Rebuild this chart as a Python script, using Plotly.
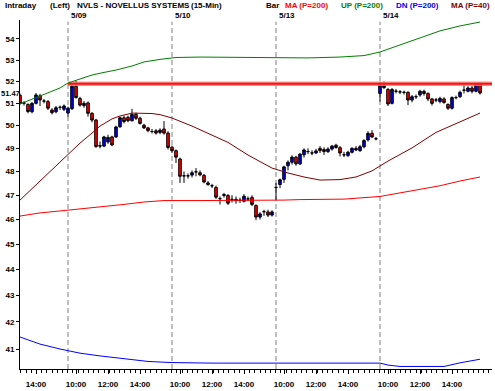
import math
import plotly.graph_objects as go

# ---------------- data ----------------
bar_idx = list(range(116))

opens = [
    51.37, 51.00, 50.95, 50.62, 51.00, 51.34, 51.10, 51.08, 50.70, 50.62, 50.82, 50.73, 50.56,
    50.76, 51.78, 51.22, 50.90, 51.02, 50.55, 50.25, 49.12, 49.10, 49.28, 49.50, 49.50, 49.95, 50.35,
    50.37, 50.22, 50.50, 50.33, 50.02, 49.90, 49.74, 49.77, 49.70, 49.85, 49.67, 49.05,
    48.90, 48.54, 47.82, 47.82, 47.85, 47.99, 47.95, 47.84, 47.52, 47.40, 47.33, 46.86, 46.99,
    46.99, 46.83, 46.83, 46.79, 46.75, 46.85, 46.91, 46.58, 46.10, 46.32, 46.31, 46.18,
    47.33, 47.45, 47.67, 48.25, 48.40, 48.62, 48.33, 48.72, 48.86, 48.80, 48.80, 49.00, 48.95,
    48.86, 48.97, 49.14, 49.03, 48.72, 48.69, 48.83, 49.00, 48.90, 49.07, 49.37, 49.66, 49.42,
    51.45, 51.83, 51.63, 51.00, 51.55, 51.52, 51.50, 51.50, 51.15, 51.30, 51.38, 51.55, 51.45,
    51.20, 51.15, 51.08, 51.20, 50.95, 50.78, 51.26, 51.30, 51.60, 51.55, 51.70, 51.55, 51.90,
]
highs = [
    51.45, 51.10, 51.00, 51.05, 51.47, 51.43, 51.20, 51.15, 50.78, 50.88, 50.90, 50.95, 50.85,
    51.90, 52.04, 51.30, 51.10, 51.08, 50.60, 50.30, 49.30, 49.55, 49.60, 49.55, 50.00, 50.40, 50.45,
    50.45, 50.75, 50.58, 50.40, 50.08, 49.95, 49.85, 49.85, 49.88, 50.20, 49.75, 49.12,
    48.95, 48.60, 48.00, 47.92, 48.05, 48.15, 48.05, 47.90, 47.60, 47.48, 47.40, 46.95, 47.10,
    47.05, 47.00, 46.95, 46.90, 47.05, 46.95, 47.00, 46.62, 46.30, 46.40, 46.40, 46.38,
    47.52, 47.70, 48.25, 48.48, 48.70, 48.68, 48.80, 49.00, 49.00, 48.92, 48.98, 49.10, 49.05,
    49.05, 49.15, 49.20, 49.10, 48.85, 48.90, 49.05, 49.10, 49.15, 49.40, 49.75, 49.80, 49.50,
    51.98, 52.00, 51.70, 51.70, 51.65, 51.60, 51.58, 51.55, 51.38, 51.40, 51.62, 51.62, 51.50,
    51.25, 51.25, 51.30, 51.28, 51.00, 51.32, 51.35, 51.58, 51.88, 51.78, 51.80, 51.92, 51.95,
]
lows = [
    50.95, 50.90, 50.55, 50.55, 50.95, 50.88, 51.00, 50.70, 50.50, 50.55, 50.70, 50.65, 50.40,
    50.70, 51.22, 50.85, 50.80, 50.40, 50.15, 49.02, 49.00, 49.05, 49.20, 49.10, 49.45, 49.90, 50.10,
    50.15, 50.18, 50.25, 50.05, 49.85, 49.70, 49.65, 49.60, 49.62, 49.60, 48.95, 48.82,
    48.37, 47.52, 47.52, 47.70, 47.75, 47.80, 47.80, 47.50, 47.40, 47.30, 46.85, 46.62, 46.90,
    46.60, 46.70, 46.65, 46.68, 46.70, 46.75, 46.55, 45.97, 46.00, 46.15, 46.10, 46.12,
    46.80, 47.30, 47.52, 48.05, 48.30, 48.25, 48.28, 48.60, 48.75, 48.70, 48.75, 48.80, 48.72,
    48.80, 48.90, 48.98, 48.65, 48.62, 48.62, 48.78, 48.88, 48.85, 49.00, 49.30, 49.45, 49.35,
    51.08, 51.65, 50.88, 50.95, 51.45, 51.42, 51.40, 50.92, 51.05, 51.20, 51.30, 51.35, 51.10,
    50.90, 51.05, 51.00, 50.98, 50.70, 50.72, 51.18, 51.25, 51.45, 51.50, 51.45, 51.50, 51.40,
]
closes = [
    51.00, 51.02, 50.63, 51.00, 51.38, 51.15, 51.10, 50.78, 50.58, 50.80, 50.82, 50.88, 50.78,
    51.78, 51.26, 50.92, 51.00, 50.55, 50.25, 49.08, 49.10, 49.50, 49.48, 49.15, 49.94, 50.35, 50.18,
    50.22, 50.50, 50.33, 50.10, 49.90, 49.78, 49.74, 49.67, 49.80, 49.67, 49.04, 48.90,
    48.62, 47.80, 47.82, 47.82, 47.95, 47.99, 47.86, 47.56, 47.45, 47.40, 46.92, 46.86, 47.03,
    46.67, 46.83, 46.78, 46.79, 46.96, 46.85, 46.62, 46.10, 46.23, 46.32, 46.18, 46.31,
    47.33, 47.65, 48.20, 48.40, 48.62, 48.33, 48.75, 48.93, 48.86, 48.80, 48.89, 48.90, 48.86,
    48.97, 49.10, 49.04, 48.80, 48.72, 48.83, 49.00, 48.93, 49.07, 49.34, 49.66, 49.50, 49.42,
    51.83, 51.72, 50.97, 51.63, 51.55, 51.52, 51.50, 51.15, 51.30, 51.30, 51.55, 51.45, 51.20,
    51.00, 51.15, 51.22, 51.04, 50.78, 51.26, 51.26, 51.50, 51.60, 51.70, 51.55, 51.85, 51.47,
]

# moving average (P=200)
ma200_idx = [0, 5, 10, 15, 20, 26, 31, 36, 45, 55, 66, 70, 81, 90, 95, 100, 105, 110, 115]
ma200_val = [46.14, 46.27, 46.35, 46.43, 46.52, 46.62, 46.72, 46.78, 46.78, 46.78, 46.80,
             46.82, 46.84, 46.95, 47.09, 47.26, 47.40, 47.60, 47.77]
# upper band (P=200)
up_idx = [0, 5, 10, 12, 15, 18, 21, 24, 28, 31, 35, 39, 45, 55, 64, 72, 80, 86, 90, 95, 100, 105, 110, 115]
up_val = [50.97, 51.33, 51.70, 51.93, 52.12, 52.30, 52.42, 52.53, 52.72, 52.91, 53.03, 53.12,
          53.14, 53.12, 53.10, 53.10, 53.14, 53.21, 53.38, 53.71, 54.05, 54.39, 54.63, 54.82]
# lower band (P=200)
dn_idx = [0, 5, 10, 15, 20, 28, 32, 38, 48, 64, 80, 90, 92, 95, 106, 110, 115]
dn_val = [41.44, 41.18, 41.00, 40.85, 40.75, 40.60, 40.55, 40.51, 40.49, 40.49, 40.50,
          40.49, 40.42, 40.37, 40.37, 40.50, 40.63]
# moving average (P=40)
ma40_idx = [0, 3, 5, 8, 10, 12, 15, 18, 20, 23, 25, 28, 33, 35, 38, 43, 47, 52, 57, 63,
            67, 71, 75, 80, 84, 88, 92, 98, 104, 109, 115]
ma40_val = [46.80, 47.28, 47.60, 48.11, 48.41, 48.76, 49.23, 49.67, 49.98, 50.30, 50.43,
            50.56, 50.54, 50.49, 50.34, 49.98, 49.67, 49.26, 48.71, 48.15, 47.94, 47.77,
            47.64, 47.66, 47.77, 48.03, 48.45, 49.02, 49.70, 50.09, 50.56]

resist_level = 51.9
resist_start_idx = 12
last_price = 51.47

day_start_idx = [12, 38, 64, 90]
day_labels = ["5/09", "5/10", "5/13", "5/14"]
time_tick_idx = [4, 14, 22, 30, 40, 48, 56, 66, 74, 82, 92, 100, 108]
time_tick_text = ["14:00", "10:00", "12:00", "14:00", "10:00", "12:00", "14:00",
                  "10:00", "12:00", "14:00", "10:00", "12:00", "14:00"]
price_ticks = list(range(41, 55))

# ---------------- layout geometry ----------------
W, H = 495, 391
ML, MR, MT, MB = 20, 3, 20, 22
PW, PH = W - ML - MR, H - MT - MB
FONT = "Liberation Sans, Arial, sans-serif"


def px_x(px):
    return (px - ML) / PW


def px_y(py):
    return (H - MB - py) / PH


def tfont(color="black", size=8):
    return dict(family=FONT, size=size, color=color, weight="bold")


fig = go.Figure()

# thick resistance line
fig.add_trace(go.Scatter(x=[resist_start_idx, 118], y=[resist_level, resist_level], mode="lines",
                         line=dict(color="rgba(255,120,120,0.8)", width=4.5), hoverinfo="skip"))
fig.add_trace(go.Scatter(x=[resist_start_idx, 118], y=[resist_level, resist_level], mode="lines",
                         line=dict(color="#ff1010", width=2), hoverinfo="skip"))

fig.add_trace(go.Scatter(x=up_idx, y=up_val, mode="lines", line=dict(color="#008000", width=1)))
fig.add_trace(go.Scatter(x=dn_idx, y=dn_val, mode="lines", line=dict(color="#0000ff", width=1)))
fig.add_trace(go.Scatter(x=ma200_idx, y=ma200_val, mode="lines", line=dict(color="#ff0000", width=1)))
fig.add_trace(go.Scatter(x=ma40_idx, y=ma40_val, mode="lines", line=dict(color="#800000", width=1)))

fig.add_trace(go.Candlestick(
    x=bar_idx, open=opens, high=highs, low=lows, close=closes,
    increasing=dict(line=dict(color="black", width=1), fillcolor="#0000ff"),
    decreasing=dict(line=dict(color="black", width=1), fillcolor="#ff0000"),
    whiskerwidth=0,
))

shapes = []
for d in day_start_idx:
    shapes.append(dict(type="line", xref="x", yref="paper", x0=d, x1=d, y0=0, y1=0.995,
                       line=dict(color="#808080", width=1, dash="5px,3px"), layer="below"))

annotations = []
for d, lab in zip(day_start_idx, day_labels):
    annotations.append(dict(x=d + 0.5, y=px_y(15.5), xref="x", yref="paper", text=lab,
                            showarrow=False, xanchor="left", yanchor="middle", borderpad=0,
                            font=tfont()))

header = [
    ("Intraday", 4, "black"),
    ("(Left)", 49, "black"),
    ("NVLS - NOVELLUS SYSTEMS", 76, "black"),
    ("(15-Min)", 190, "black"),
    ("Bar", 265, "black"),
    ("MA (P=200)", 284, "#ff0000"),
    ("UP (P=200)", 340, "#008000"),
    ("DN (P=200)", 395, "#0000ff"),
    ("MA (P=40)", 450, "#800000"),
]
for txt, xl, col in header:
    annotations.append(dict(x=px_x(xl), y=px_y(5.5), xref="paper", yref="paper", text=txt,
                            showarrow=False, xanchor="left", yanchor="middle", borderpad=0,
                            font=tfont(col)))

annotations.append(dict(x=px_x(20.5), y=math.log10(last_price), xref="paper", yref="y",
                        text=f"{last_price:.2f}", showarrow=False, xanchor="right",
                        yanchor="middle", borderpad=0, font=tfont(size=7.5)))

fig.update_layout(
    width=W, height=H, autosize=False,
    margin=dict(l=ML, r=MR, t=MT, b=MB),
    paper_bgcolor="white", plot_bgcolor="white",
    showlegend=False,
    boxgap=0.08,
    shapes=shapes, annotations=annotations,
    xaxis=dict(
        range=[0, 118], showgrid=False, zeroline=False,
        showline=True, linecolor="black", linewidth=1,
        tickmode="array", tickvals=time_tick_idx, ticktext=time_tick_text,
        ticks="outside", ticklen=4, tickcolor="black", ticklabelstandoff=3,
        tickfont=tfont(),
        minor=dict(dtick=1.3, tick0=0.2, ticks="outside", ticklen=3, tickcolor="black"),
        rangeslider=dict(visible=False),
    ),
    yaxis=dict(
        type="log", range=[1.60508, 1.73972], showgrid=False, zeroline=False,
        showline=True, linecolor="black", linewidth=1,
        tickmode="array", tickvals=price_ticks, ticktext=[str(v) for v in price_ticks],
        ticks="outside", ticklen=3, tickcolor="black",
        tickfont=tfont(),
    ),
)

fig.write_html("out.html", config={"displayModeBar": False},
               post_script="document.body.style.margin='0';document.body.style.overflow='hidden';")
